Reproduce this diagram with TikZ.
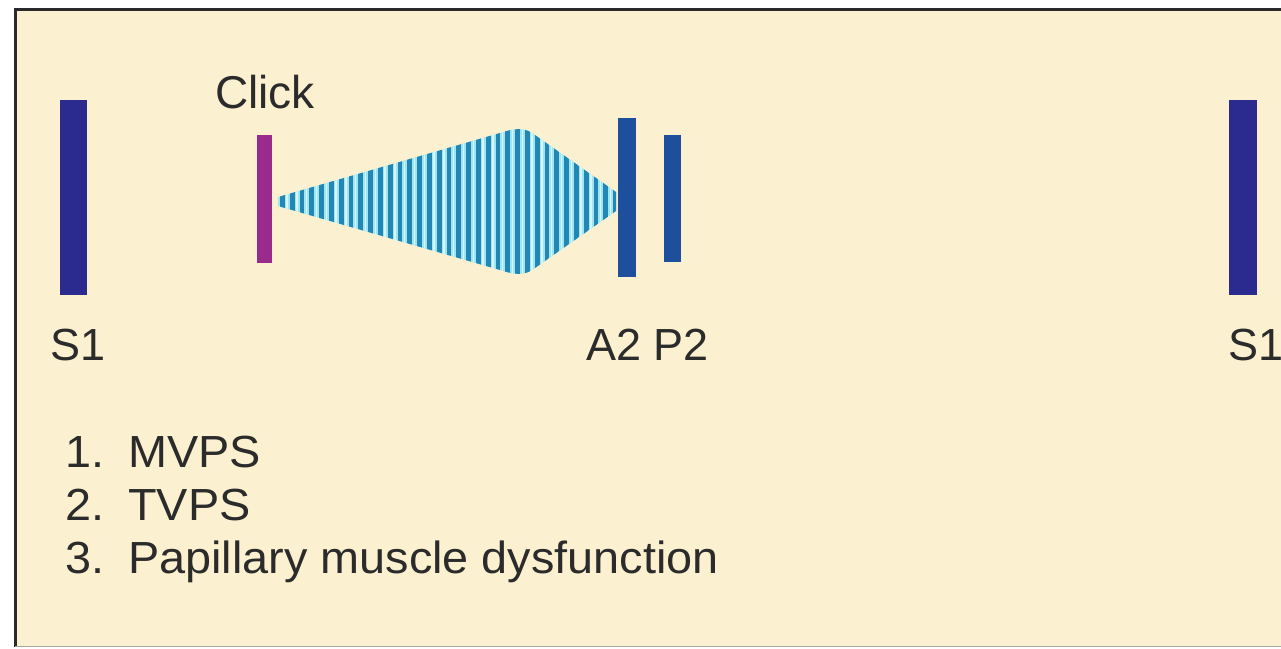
\documentclass[tikz,border=0pt]{standalone}
\usepackage{fontspec}
\setmainfont{Liberation Sans}
\newfontfamily\listfont[FakeStretch=1.04]{Liberation Sans}
\definecolor{bgcream}{HTML}{FBF0CF}
\definecolor{frameline}{HTML}{2A2A2A}
\definecolor{sbar}{HTML}{2B2A8F}
\definecolor{clickbar}{HTML}{9A2A8C}
\definecolor{abar}{HTML}{1D4F9C}
\definecolor{murlight}{HTML}{9FE6F2}
\definecolor{murdark}{HTML}{2387B5}
\definecolor{txt}{HTML}{2B2B2B}
\tikzset{
  lbl/.style={anchor=base west, inner sep=0pt, text=txt, font=\fontsize{45}{54}\selectfont},
  listlbl/.style={anchor=base west, inner sep=0pt, text=txt, font=\listfont\fontsize{45}{54}\selectfont},
  clicklbl/.style={anchor=base west, inner sep=0pt, text=txt, font=\fontsize{46}{55}\selectfont}
}
\begin{document}
\begin{tikzpicture}[x=1pt,y=-1pt]
\useasboundingbox (0,0) rectangle (1281,648);
\fill[white] (0,0) rectangle (1281,648);
\fill[bgcream] (15,9) rectangle (1281,647);
% frame
\draw[frameline, line width=3pt] (15.5,647) -- (15.5,9.5) -- (1281,9.5);
\draw[gray!70, line width=1.5pt] (15,646.5) -- (1281,646.5);
% bars
\fill[sbar] (60,100) rectangle (87,295);
\fill[clickbar] (257,135) rectangle (272,263);
\fill[abar] (618,118) rectangle (636,277);
\fill[abar] (664,135) rectangle (681,262);
\fill[sbar] (1229,100) rectangle (1257,295);
% murmur
\begin{scope}
\clip (278,197) -- (500,133) .. controls (515,128) and (525,127) .. (535,135) -- (616,192) -- (616,211) -- (535,268) .. controls (525,276) and (515,275) .. (500,270) -- (278,206) -- cycle;
\fill[murlight] (276,120) rectangle (618,280);
\foreach \i in {0,...,34} {
  \fill[murdark] ({280+9.8*\i},120) rectangle ({284.8+9.8*\i},280);
  \fill[white!60!murlight] ({286.3+9.8*\i},120) rectangle ({287.8+9.8*\i},280);
}
\end{scope}
% labels
\node[clicklbl] (click) at (215,108) {Click};
\node[lbl] (s1a) at (50,360) {S1};
\node[lbl] (a2p2) at (586,360) {A2 P2};
\node[lbl] (s1b) at (1228,360) {S1};
\node[listlbl] (n1) at (65,467) {1.};
\node[listlbl] (t1) at (128,467) {MVPS};
\node[listlbl] (n2) at (65,520) {2.};
\node[listlbl] (t2) at (128,520) {TVPS};
\node[listlbl] (n3) at (65,573) {3.};
\node[listlbl] (t3) at (128,573) {Papillary muscle dysfunction};
\end{tikzpicture}
\end{document}
